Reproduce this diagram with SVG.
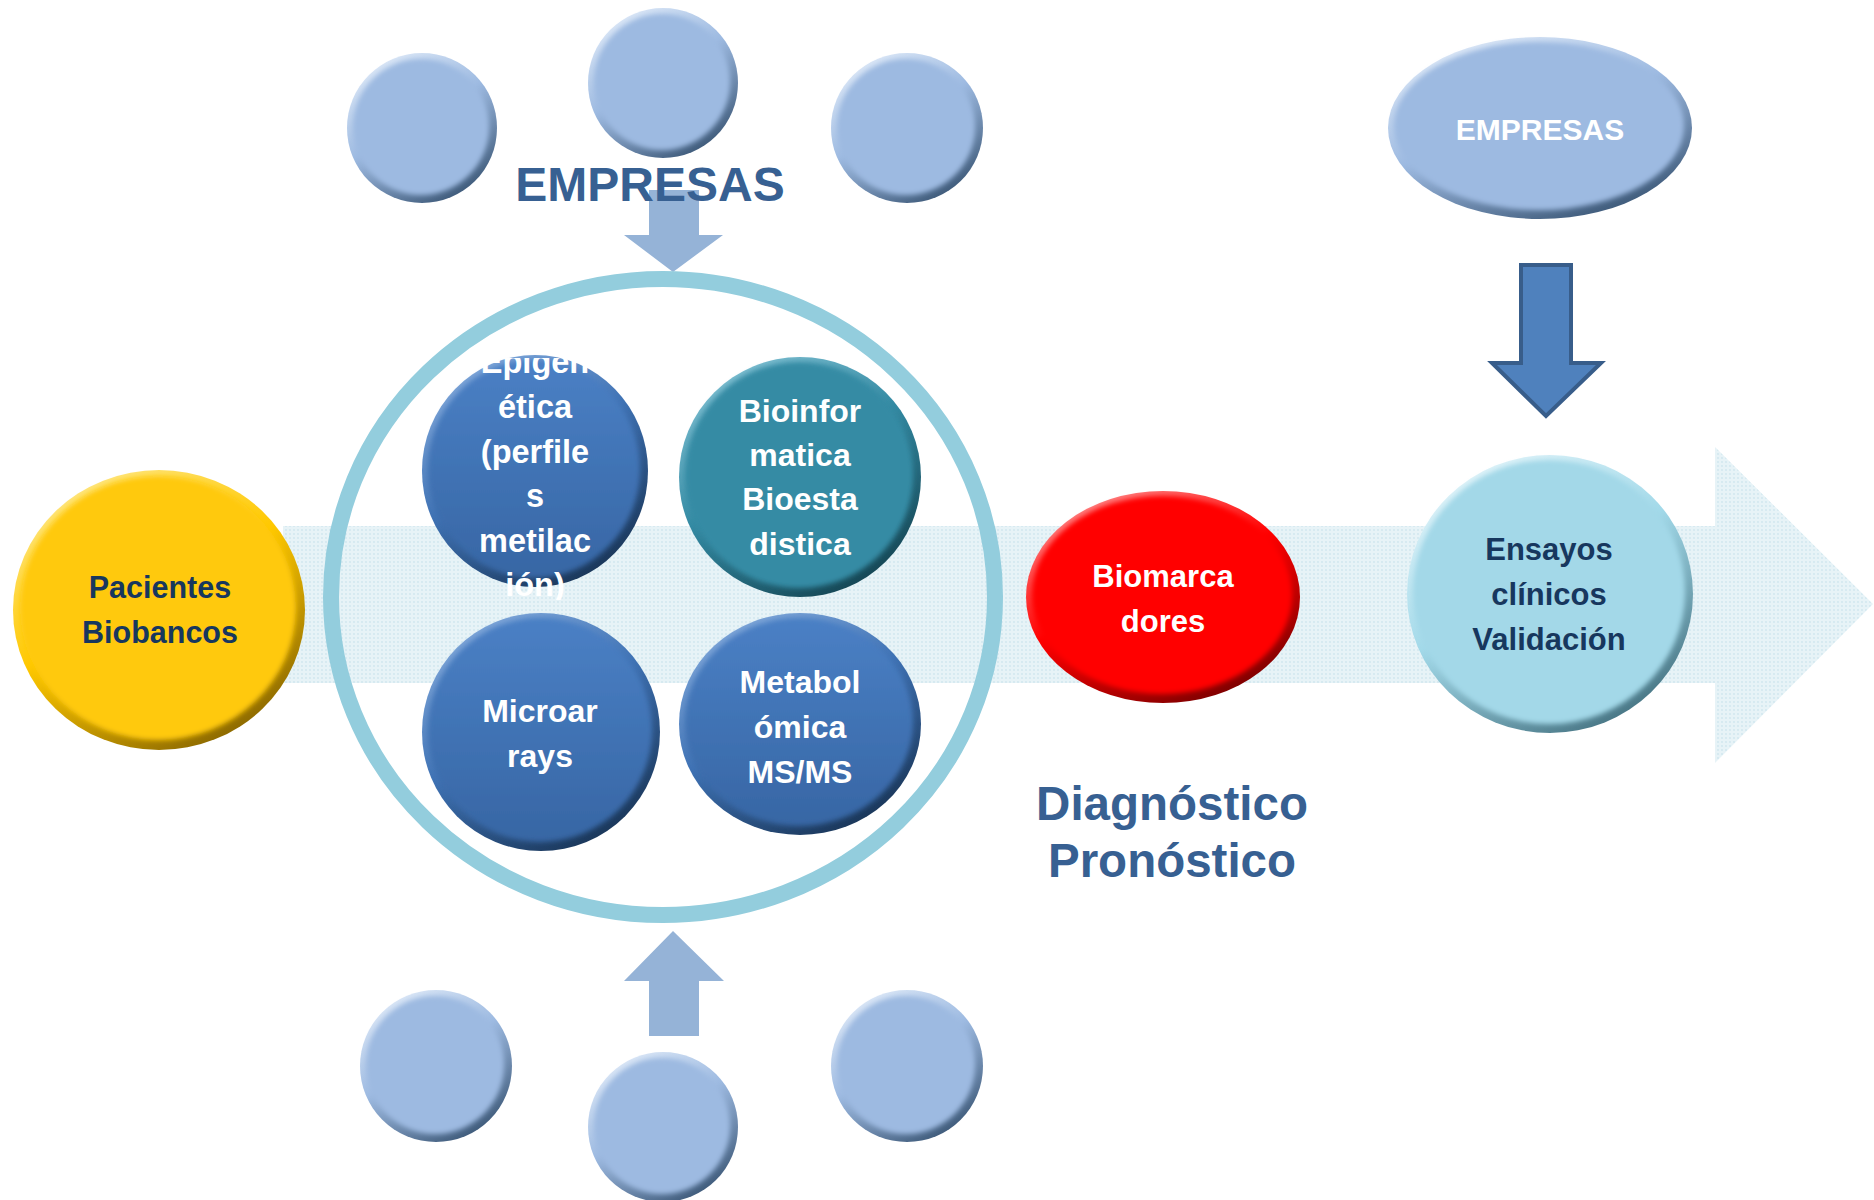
<svg xmlns="http://www.w3.org/2000/svg" width="1874" height="1200" viewBox="0 0 1874 1200">
  <defs>
    <style>
      text { font-family: "Liberation Sans", Arial, sans-serif; font-weight: bold; text-anchor: middle; }
      .w { fill: #FFFFFF; }
      .n { fill: #17375E; }
      .big { fill: #376092; font-size: 47.5px; }
      .inner { filter: url(#soft); }
    </style>
    <filter id="soft" x="-10%" y="-10%" width="120%" height="120%">
      <feGaussianBlur stdDeviation="2.5"/>
    </filter>
    <pattern id="dots" width="4" height="4" patternUnits="userSpaceOnUse">
      <rect width="4" height="4" fill="#E7F3F7"/>
      <circle cx="2" cy="2" r="0.9" fill="#CFE6EE"/>
    </pattern>
    <linearGradient id="rimLight" x1="0.2" y1="0" x2="0.8" y2="1">
      <stop offset="0" stop-color="#E2ECF9"/>
      <stop offset="0.45" stop-color="#9DBAE1"/>
      <stop offset="1" stop-color="#34506F"/>
    </linearGradient>
    <linearGradient id="rimDark" x1="0.2" y1="0" x2="0.8" y2="1">
      <stop offset="0" stop-color="#86ACDD"/>
      <stop offset="0.45" stop-color="#3F72B4"/>
      <stop offset="1" stop-color="#16304F"/>
    </linearGradient>
    <linearGradient id="bodyDark" x1="0" y1="0" x2="0" y2="1">
      <stop offset="0" stop-color="#4A80C5"/>
      <stop offset="1" stop-color="#3766A4"/>
    </linearGradient>
    <linearGradient id="rimTeal" x1="0.2" y1="0" x2="0.8" y2="1">
      <stop offset="0" stop-color="#86C4D6"/>
      <stop offset="0.45" stop-color="#348AA3"/>
      <stop offset="1" stop-color="#123F4C"/>
    </linearGradient>
    <linearGradient id="rimRed" x1="0.2" y1="0" x2="0.8" y2="1">
      <stop offset="0" stop-color="#FF9090"/>
      <stop offset="0.45" stop-color="#FF0000"/>
      <stop offset="1" stop-color="#700000"/>
    </linearGradient>
    <linearGradient id="rimYellow" x1="0.2" y1="0" x2="0.8" y2="1">
      <stop offset="0" stop-color="#FFE98C"/>
      <stop offset="0.45" stop-color="#FFC800"/>
      <stop offset="1" stop-color="#7F5E00"/>
    </linearGradient>
    <linearGradient id="rimCyan" x1="0.2" y1="0" x2="0.8" y2="1">
      <stop offset="0" stop-color="#E6F6FB"/>
      <stop offset="0.45" stop-color="#A2D9E9"/>
      <stop offset="1" stop-color="#3E6B7A"/>
    </linearGradient>
    <clipPath id="epiClip">
      <rect x="400" y="358" width="270" height="242"/>
    </clipPath>
  </defs>

  <rect width="1874" height="1200" fill="#FFFFFF"/>

  <g id="background-arrow">
    <path d="M283,526 H1715 V447 L1873,604 L1715,763 V683 H283 Z" fill="url(#dots)"/>
  </g>

  <g id="connectors">
    <path d="M649,190 H699 V235 H723 L673,272 L624,235 H649 Z" fill="#95B3D7"/>
    <path d="M649,1036 H699 V981 H724 L673,931 L624,981 H649 Z" fill="#95B3D7"/>
    <path d="M1521,265 H1571 V363 H1601 L1546,416 L1492,363 H1521 Z" fill="#4F81BD" stroke="#385D8A" stroke-width="4" stroke-linejoin="miter"/>
  </g>

  <g id="ring">
    <ellipse cx="663" cy="597" rx="332" ry="318" fill="none" stroke="#93CDDD" stroke-width="16"/>
  </g>

  <g id="top-left-circle">
    <ellipse cx="422" cy="128" rx="75" ry="75" fill="url(#rimLight)"/>
    <ellipse class="inner" cx="421" cy="127" rx="68" ry="68" fill="#9DBAE1"/>
  </g>
  <g id="top-middle-circle">
    <ellipse cx="663" cy="83" rx="75" ry="75" fill="url(#rimLight)"/>
    <ellipse class="inner" cx="662" cy="82" rx="68" ry="68" fill="#9DBAE1"/>
  </g>
  <g id="top-right-circle">
    <ellipse cx="907" cy="128" rx="76" ry="75" fill="url(#rimLight)"/>
    <ellipse class="inner" cx="906" cy="127" rx="69" ry="68" fill="#9DBAE1"/>
  </g>
  <g id="bottom-left-circle">
    <ellipse cx="436" cy="1066" rx="76" ry="76" fill="url(#rimLight)"/>
    <ellipse class="inner" cx="435" cy="1065" rx="69" ry="69" fill="#9DBAE1"/>
  </g>
  <g id="bottom-middle-circle">
    <ellipse cx="663" cy="1127" rx="75" ry="75" fill="url(#rimLight)"/>
    <ellipse class="inner" cx="662" cy="1126" rx="68" ry="68" fill="#9DBAE1"/>
  </g>
  <g id="bottom-right-circle">
    <ellipse cx="907" cy="1066" rx="76" ry="76" fill="url(#rimLight)"/>
    <ellipse class="inner" cx="906" cy="1065" rx="69" ry="69" fill="#9DBAE1"/>
  </g>

  <g id="empresas-label">
    <text class="big" x="650" y="201" style="font-size:48px">EMPRESAS</text>
  </g>

  <g id="pacientes">
    <ellipse cx="159" cy="610" rx="146" ry="140" fill="url(#rimYellow)"/>
    <ellipse class="inner" cx="158" cy="608" rx="138" ry="132" fill="#FFC90A"/>
    <text class="n" x="160" y="598" style="font-size:30.5px">Pacientes</text>
    <text class="n" x="160" y="643" style="font-size:30.5px">Biobancos</text>
  </g>

  <g id="epigenetica">
    <ellipse cx="535" cy="471" rx="113" ry="116" fill="url(#rimDark)"/>
    <ellipse class="inner" cx="534" cy="469" rx="106" ry="109" fill="url(#bodyDark)"/>
    <g clip-path="url(#epiClip)" style="font-size:32.5px">
      <text class="w" x="535" y="373">Epigen</text>
      <text class="w" x="535" y="418">ética</text>
      <text class="w" x="535" y="463">(perfile</text>
      <text class="w" x="535" y="507">s</text>
      <text class="w" x="535" y="552">metilac</text>
      <text class="w" x="535" y="596">ión)</text>
    </g>
  </g>

  <g id="bioinformatica">
    <ellipse cx="800" cy="477" rx="121" ry="120" fill="url(#rimTeal)"/>
    <ellipse class="inner" cx="799" cy="475" rx="114" ry="113" fill="#358BA4"/>
    <text class="w" x="800" y="422" style="font-size:32px">Bioinfor</text>
    <text class="w" x="800" y="466" style="font-size:32px">matica</text>
    <text class="w" x="800" y="510" style="font-size:32px">Bioesta</text>
    <text class="w" x="800" y="555" style="font-size:32px">distica</text>
  </g>

  <g id="microarrays">
    <ellipse cx="541" cy="732" rx="119" ry="119" fill="url(#rimDark)"/>
    <ellipse class="inner" cx="540" cy="730" rx="112" ry="112" fill="url(#bodyDark)"/>
    <text class="w" x="540" y="722" style="font-size:32px">Microar</text>
    <text class="w" x="540" y="767" style="font-size:32px">rays</text>
  </g>

  <g id="metabolomica">
    <ellipse cx="800" cy="724" rx="121" ry="111" fill="url(#rimDark)"/>
    <ellipse class="inner" cx="799" cy="722" rx="114" ry="104" fill="url(#bodyDark)"/>
    <text class="w" x="800" y="693" style="font-size:32px">Metabol</text>
    <text class="w" x="800" y="738" style="font-size:32px">ómica</text>
    <text class="w" x="800" y="783" style="font-size:32px">MS/MS</text>
  </g>

  <g id="biomarcadores">
    <ellipse cx="1163" cy="597" rx="137" ry="106" fill="url(#rimRed)"/>
    <ellipse class="inner" cx="1162" cy="595" rx="130" ry="99" fill="#FF0000"/>
    <text class="w" x="1163" y="587" style="font-size:31px">Biomarca</text>
    <text class="w" x="1163" y="632" style="font-size:31px">dores</text>
  </g>

  <g id="ensayos">
    <ellipse cx="1550" cy="594" rx="143" ry="139" fill="url(#rimCyan)"/>
    <ellipse class="inner" cx="1549" cy="592" rx="136" ry="132" fill="#A3D8E8"/>
    <text class="n" x="1549" y="560" style="font-size:31px">Ensayos</text>
    <text class="n" x="1549" y="605" style="font-size:31px">clínicos</text>
    <text class="n" x="1549" y="650" style="font-size:31px">Validación</text>
  </g>

  <g id="empresas-node">
    <ellipse cx="1540" cy="128" rx="152" ry="91" fill="url(#rimLight)"/>
    <ellipse class="inner" cx="1539" cy="126" rx="145" ry="84" fill="#9DBAE1"/>
    <text class="w" x="1540" y="140" style="font-size:30px">EMPRESAS</text>
  </g>

  <g id="diagnostico-label">
    <text class="big" x="1172" y="820">Diagnóstico</text>
    <text class="big" x="1172" y="877">Pronóstico</text>
  </g>
</svg>
